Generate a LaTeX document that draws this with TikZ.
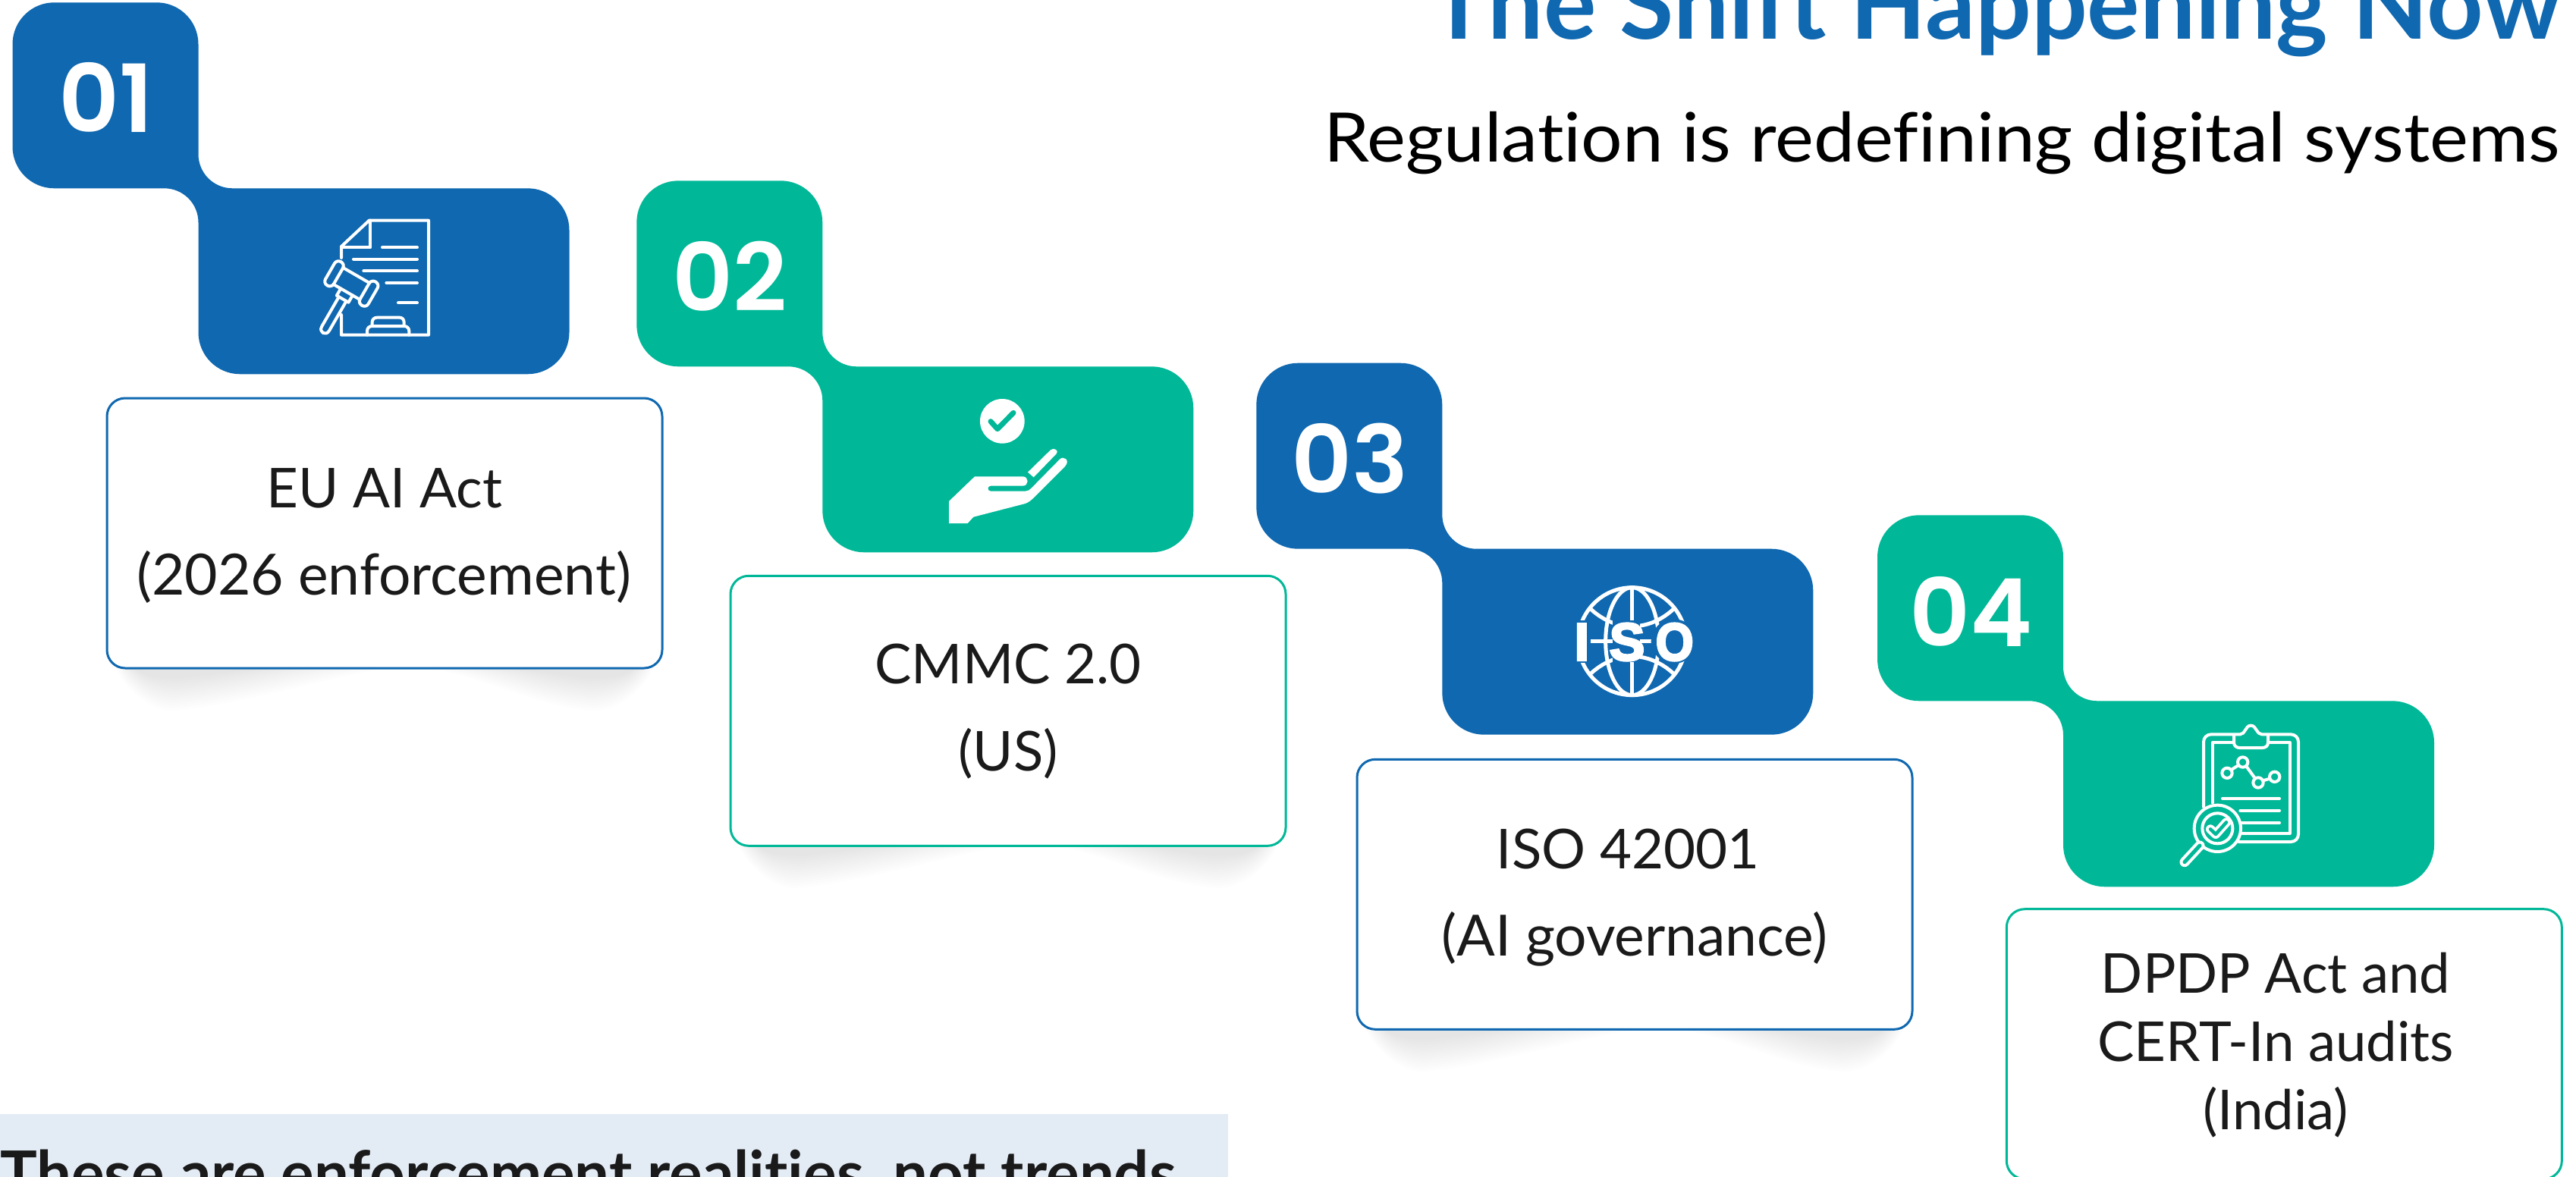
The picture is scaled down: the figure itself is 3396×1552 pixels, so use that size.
\documentclass[tikz,border=0pt]{standalone}
\usepackage{fontspec}
\setmainfont{Lato}[Ligatures=NoCommon]
\newfontfamily\numfont{Poppins SemiBold}
\newfontfamily\isofont{Liberation Sans Bold}[FakeBold=4]
\definecolor{brandblue}{HTML}{0F68B0}
\definecolor{brandteal}{HTML}{00B898}
\definecolor{inktext}{HTML}{1A1A1A}
\definecolor{bannerfill}{HTML}{E3EBF5}
\newcommand{\blobpath}{(55,0) -- (190,0) .. controls (220.4,0) and (245,24.6) .. (245,55) -- (245,200) .. controls (245,224.9) and (265.1,245) .. (290,245) -- (679,245) .. controls (709.4,245) and (734,269.6) .. (734,300) -- (734,435) .. controls (734,465.4) and (709.4,490) .. (679,490) -- (300,490) .. controls (269.6,490) and (245,465.4) .. (245,435) -- (245,290) .. controls (245,265.1) and (224.9,245) .. (200,245) -- (55,245) .. controls (24.6,245) and (0,220.4) .. (0,190) -- (0,55) .. controls (0,24.6) and (24.6,0) .. (55,0) -- cycle}
% soft shadows under a card: #1 left x, #2 right x, #3 bottom y
\newcommand{\softshadow}[3]{%
  \foreach \t in {0,0.08,...,1.0}{%
    \fill[black,opacity=0.0085] ({#1+12+25*\t},#3) .. controls ({#1+25+25*\t},{#3+30-18*\t}) and ({#1+60+10*\t},{#3+56-44*\t}) .. ({#1+85+10*\t},{#3+56-44*\t}) .. controls ({#1+170-20*\t},{#3+50-44*\t}) and ({#1+290-120*\t},{#3+12-8*\t}) .. ({#1+370-170*\t},#3) -- cycle;
    \fill[black,opacity=0.0085] ({#2-12-25*\t},#3) .. controls ({#2-25-25*\t},{#3+30-18*\t}) and ({#2-60-10*\t},{#3+56-44*\t}) .. ({#2-90-10*\t},{#3+56-44*\t}) .. controls ({#2-170+20*\t},{#3+50-44*\t}) and ({#2-230+70*\t},{#3+12-8*\t}) .. ({#2-310+120*\t},#3) -- cycle;
  }}
\tikzset{
  cardbox/.style={draw=#1,line width=3pt,fill=white,rounded corners=24pt,minimum width=732pt,minimum height=356pt,inner sep=0pt},
  cardtext/.style={anchor=base,inner sep=0pt,text=inktext,font=\fontsize{72.5}{84}\selectfont},
  cardlower/.style={cardtext,font=\fontsize{75}{84}\selectfont},
  numtext/.style={anchor=center,inner sep=0pt,text=white,font=\numfont\fontsize{124}{130}\selectfont},
  iconline/.style={draw=white,line width=4pt,line cap=round,line join=round},
  isoletter/.style={anchor=base,inner sep=0pt,text=white,font=\isofont\fontsize{70}{70}\selectfont},
}
\begin{document}
\begin{tikzpicture}[x=1pt,y=-1pt]
\useasboundingbox (0,0) rectangle (3396,1552);
\clip (0,0) rectangle (3396,1552);
\fill[white] (0,0) rectangle (3396,1552);

% titles
\node[anchor=base east,inner sep=0pt,text=brandblue,font=\bfseries\fontsize{130}{136}\selectfont] (title) at (3377,52) {The Shift Happening Now};
\node[anchor=base east,inner sep=0pt,text=black,xscale=1.07,font=\fontsize{90}{100}\selectfont] (subtitle) at (3375,213) {Regulation is redefining digital systems};

% banner
\node[anchor=north west,inner sep=0pt,fill=bannerfill,minimum width=1619pt,minimum height=90pt] (banner) at (0,1469) {};
\node[anchor=base west,inner sep=0pt,text=inktext,font=\bfseries\fontsize{81.5}{90}\selectfont] (bannertext) at (0,1576) {These are enforcement realities, not trends};

% shadows
\softshadow{141}{873}{881}
\softshadow{962}{1696}{1115}
\softshadow{1789}{2521}{1357}

% blobs
\fill[brandblue,shift={(16.5,3.3)}] \blobpath;
\fill[brandteal,shift={(839.3,238.3)}] \blobpath;
\fill[brandblue,shift={(1656.3,478.7)}] \blobpath;
\fill[brandteal,shift={(2475,679.3)}] \blobpath;

% numbers
\node[numtext] (num1) at (140,128) {01};
\node[numtext] (num2) at (962,364) {02};
\node[numtext] (num3) at (1780,605) {03};
\node[numtext] (num4) at (2598,806) {04};

% cards
\node[cardbox=brandblue] (card1) at (507,703) {};
\node[cardbox=brandteal] (card2) at (1329,937.3) {};
\node[cardbox=brandblue] (card3) at (2155,1179.3) {};
\node[cardbox=brandteal] (card4) at (3011.3,1376.7) {};

\node[cardtext] (c1a) at (507,669) {EU AI Act};
\node[cardlower] (c1b) at (506,784) {(2026 enforcement)};
\node[cardtext] (c2a) at (1329,901) {CMMC 2.0};
\node[cardtext] (c2b) at (1329,1016) {(US)};
\node[cardtext] (c3a) at (2146,1145) {ISO 42001};
\node[cardlower] (c3b) at (2155,1260) {(AI governance)};
\node[cardtext] (c4a) at (3000,1309) {DPDP Act and};
\node[cardtext] (c4b) at (3000,1399) {CERT-In audits};
\node[cardtext] (c4c) at (3000,1489) {(India)};

% icon 1: document and gavel
\begin{scope}[shift={(380,260)},scale=1/3]
  \draw[iconline] (210,240) -- (210,195) -- (320,92) -- (555,92) -- (555,545) -- (210,545) -- (210,465);
  \draw[iconline] (210,199) -- (325,199) -- (325,92);
  \draw[iconline] (372,199) -- (510,199) (258,245) -- (510,245) (298,292) -- (510,292) (388,339) -- (510,339) (435,418) -- (510,418);
  \draw[iconline] (312,545) -- (312,530) .. controls (312,518) and (320,510) .. (332,510) -- (458,510) .. controls (470,510) and (478,518) .. (478,530) -- (478,545);
  \draw[iconline] (332,510) -- (332,495) .. controls (332,483) and (340,476) .. (352,476) -- (440,476) .. controls (450,476) and (458,483) .. (458,495) -- (458,510);
  \begin{scope}[shift={(250,342)},rotate=-30]
    \draw[iconline,rounded corners=6pt] (-98,-54) rectangle (-60,54);
    \draw[iconline,rounded corners=6pt] (60,-54) rectangle (98,54);
    \draw[iconline] (-60,-38) -- (60,-38) (-60,38) -- (60,38);
    \draw[iconline] (-27,38) -- (-27,70) -- (27,70) -- (27,38);
    \draw[iconline] (-17,70) -- (-17,205) .. controls (-17,232) and (17,232) .. (17,205) -- (17,70);
  \end{scope}
\end{scope}

% icon 2: hand with check
\begin{scope}[shift={(1220,500)},scale=1/3]
  \fill[white] (304,166) circle (88);
  \draw[brandteal,line width=7pt,line cap=round,line join=round] (258,167) -- (285,197) -- (348,133);
  \fill[white] (93,570) -- (93,483) -- (195,385) -- (385,385) .. controls (410,385) and (410,422) .. (385,422) -- (258,422) .. controls (244,422) and (244,443) .. (258,443) -- (395,443) .. controls (405,443) and (413,438) .. (420,430) -- (530,318) .. controls (545,300) and (575,320) .. (552,345) -- (425,472) .. controls (415,482) and (405,488) .. (395,492) -- (190,545) -- (167,570) -- cycle;
  \fill[white] (405,368) -- (495,280) .. controls (508,268) and (530,283) .. (518,295) -- (428,388) -- cycle;
\end{scope}

% icon 3: ISO globe
\begin{scope}[shift={(2040,750)},scale=1/3]
  \draw[white,line width=5pt] (335,287) circle (213);
  \draw[white,line width=5pt] (335,287) ellipse (105 and 213);
  \draw[white,line width=5pt] (335,75) -- (335,499);
  \draw[white,line width=5pt] (172,160) .. controls (270,250) and (400,250) .. (498,160);
  \draw[white,line width=5pt] (172,414) .. controls (270,324) and (400,324) .. (498,414);
  \draw[white,line width=4.5pt] (160,287) -- (510,287);
  \fill[brandblue] (98,203) rectangle (172,371);
  \fill[brandblue] (500,287) ellipse (90 and 88);
  \fill[brandblue] (258,205) rectangle (365,369);
  \node[isoletter] (isoI) at (136,362) {I};
  \node[isoletter] (isoS) at (315,362) {S};
  \node[isoletter,xscale=0.92] (isoO) at (503,362) {O};
\end{scope}

% icon 4: clipboard and magnifier
\begin{scope}[shift={(2840,940)},scale=1/3]
  \draw[iconline] (195,372) -- (195,115) .. controls (195,98) and (208,85) .. (225,85) -- (340,85) .. controls (360,85) and (360,50) .. (382,50) .. controls (404,50) and (404,85) .. (425,85) -- (540,85) .. controls (557,85) and (570,98) .. (570,115) -- (570,480) .. controls (570,497) and (557,510) .. (540,510) -- (335,510);
  \draw[iconline] (230,355) -- (230,118) -- (315,118) (450,118) -- (537,118) -- (537,477) -- (348,477);
  \draw[iconline] (315,90) -- (315,118) .. controls (315,130) and (325,138) .. (337,138) -- (428,138) .. controls (440,138) and (450,130) .. (450,118) -- (450,90);
  \draw[iconline] (288,238) circle (20) (350,195) circle (20) (411,276) circle (20) (476,253) circle (20);
  \draw[iconline] (305,225) -- (333,207) (363,210) -- (398,258) (430,268) -- (457,260);
  \draw[iconline] (270,339) -- (495,339) (340,387) -- (495,387) (340,435) -- (495,435);
  \draw[iconline] (250,457) circle (92) (250,457) circle (60);
  \draw[white,line width=12pt,line cap=round,line join=round] (222,460) -- (243,480) -- (285,433);
  \draw[brandteal,line width=4.5pt,line cap=round,line join=round] (222,460) -- (243,480) -- (285,433);
  \draw[white,line width=13pt,line cap=round] (180,525) -- (120,590);
  \draw[brandteal,line width=5pt,line cap=round] (180,525) -- (120,590);
\end{scope}
\end{tikzpicture}
\end{document}
